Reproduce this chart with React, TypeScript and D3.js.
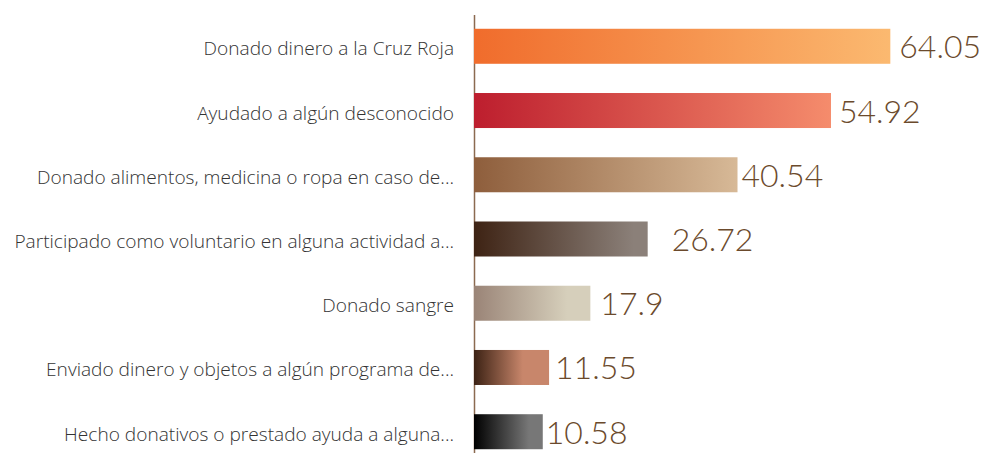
import React from "react";
import * as d3 from "d3";

const categories = [
  "Donado dinero a la Cruz Roja",
  "Ayudado a algún desconocido",
  "Donado alimentos, medicina o ropa en caso de...",
  "Participado como voluntario en alguna actividad a...",
  "Donado sangre",
  "Enviado dinero y objetos a algún programa de...",
  "Hecho donativos o prestado ayuda a alguna...",
];
const values = [64.05, 54.92, 40.54, 26.72, 17.9, 11.55, 10.58];

// styles
const gradStart = ["#f06c2c", "#bd1e2e", "#8e5e3c", "#3e2314", "#9a8477", "#3c2214", "#000000"];
const gradEnd = ["#fbb970", "#f58c6c", "#d7b997", "#8b8079", "#d6cfbb", "#c8866b", "#777777"];
const gradStop = [1, 1, 1, 0.92, 0.8, 0.65, 0.8];
const labelDx = [9, 8, 4, 24, 10, 6, 3];

const W = 992;
const H = 453;

export default function App() {
  const x = d3.scaleLinear().domain([0, 80]).range([474, 994]);
  const y = d3
    .scaleBand<number>()
    .domain(d3.range(categories.length))
    .range([14, 464])
    .paddingInner(0.455)
    .paddingOuter(0.23);

  return (
    <div style={{ position: "fixed", left: 0, top: 0 }}>
      <svg width={W} height={H} style={{ display: "block", background: "#fff" }}>
        <defs>
          {values.map((_, i) => (
            <linearGradient key={i} id={`g${i}`} x1="0" x2="1" y1="0" y2="0">
              <stop offset="0" stopColor={gradStart[i]} />
              <stop offset={gradStop[i]} stopColor={gradEnd[i]} />
              <stop offset="1" stopColor={gradEnd[i]} />
            </linearGradient>
          ))}
        </defs>
        <line x1={474.5} x2={474.5} y1={15} y2={H} stroke="#8b6a50" strokeWidth={1.5} />
        {values.map((v, i) => {
          const y0 = y(i)!;
          const bh = y.bandwidth();
          const cy = y0 + bh / 2;
          return (
            <g key={i}>
              <rect x={x(0)} y={y0} width={x(v) - x(0)} height={bh} fill={`url(#g${i})`} />
              <text
                x={454}
                y={cy + 9}
                textAnchor="end"
                fontFamily="'Open Sans', sans-serif"
                fontWeight={300}
                fontSize={19.1}
                fill="#333333"
              >
                {categories[i]}
              </text>
              <text
                x={x(v) + labelDx[i]}
                y={cy + 12}
                fontFamily="Lato, sans-serif"
                fontWeight={300}
                fontSize={32}
                fill="#6b4a2c"
              >
                {String(v)}
              </text>
            </g>
          );
        })}
      </svg>
    </div>
  );
}
